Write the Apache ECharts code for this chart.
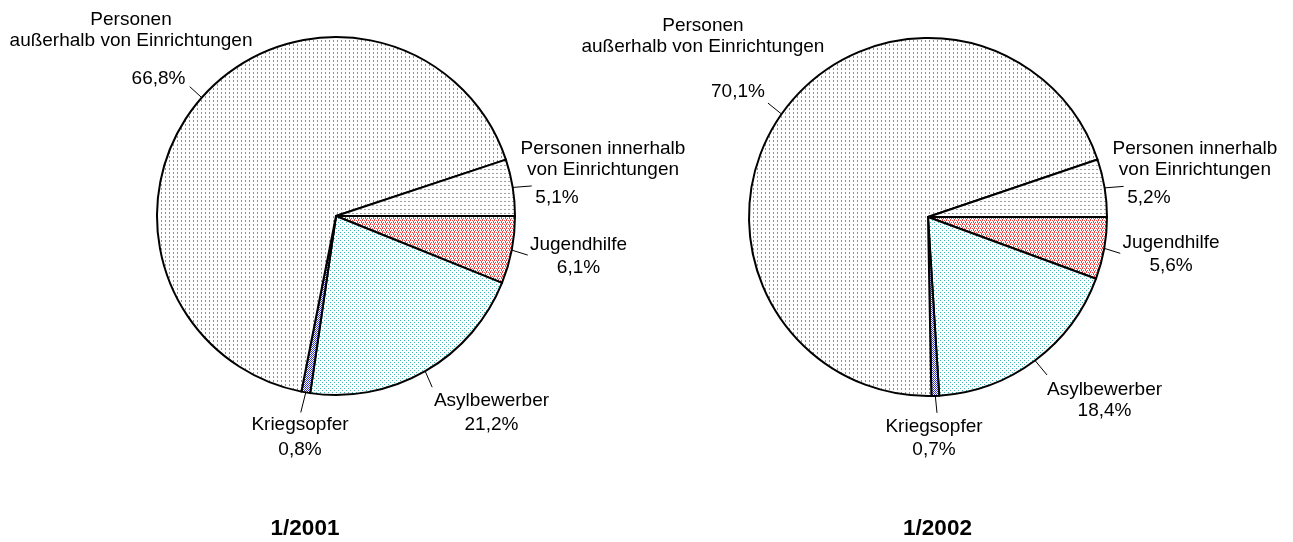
<!DOCTYPE html>
<html><head><meta charset="utf-8">
<script src="https://cdn.jsdelivr.net/npm/echarts@6/dist/echarts.min.js"></script>
<style>html,body{margin:0;padding:0;background:#fff}#c{width:1293px;height:542px}</style>
</head><body><div id="c"></div>
<script>
// ---- data ----
const categories = ['Jugendhilfe', 'Asylbewerber', 'Kriegsopfer',
  'Personen außerhalb von Einrichtungen', 'Personen innerhalb von Einrichtungen'];
const labelNames = ['Jugendhilfe', 'Asylbewerber', 'Kriegsopfer',
  'Personen\naußerhalb von Einrichtungen', 'Personen innerhalb\nvon Einrichtungen'];
const values2001 = [6.1, 21.2, 0.8, 66.8, 5.1];
const values2002 = [5.6, 18.4, 0.7, 70.1, 5.2];
const chartTitles = ['1/2001', '1/2002'];

// ---- style ----
const FONT = 'Liberation Sans';
const LABEL_SIZE = 19;
const NAME_LH = 21;

function makePattern(fg, pts, size) {
  const c = document.createElement('canvas');
  c.width = size; c.height = size;
  const g = c.getContext('2d');
  g.fillStyle = '#ffffff'; g.fillRect(0, 0, size, size);
  g.fillStyle = fg;
  pts.forEach(p => g.fillRect(p[0], p[1], 1, 1));
  return { image: c, repeat: 'repeat' };
}
const fills = [
  makePattern('#f04040', [[0,0],[2,0],[1,1],[3,2],[1,2],[2,3]], 4),               // Jugendhilfe
  makePattern('#38b4b4', [[0,0],[2,2]], 4),                                        // Asylbewerber
  makePattern('#3838c4', [[0,0],[2,0],[1,1],[3,1],[0,2],[2,2],[1,3],[3,3]], 4),   // Kriegsopfer
  makePattern('#909090', [[1,0],[1,1]], 4),                                        // außerhalb
  makePattern('#a0a0a0', [[0,1],[1,1]], 4)                                         // innerhalb
];

const sideOffsets = {
  J: { dx: 66.8, dy: -16.1, lp: 25, shift: 0, lead: [16, 5] },
  I: { dx: 90.3, dy: -49.4, lp: 35, shift: -46, lead: [19, -1.5] }
};
const pies = [
  { center: [336, 216], radius: 179, titleX: 305, values: values2001,
    offs: [sideOffsets.J,
           { dx: 66.3, dy: 18.8, lp: 27, shift: 0, lead: [7, 16] },
           { dx: -5.8, dy: 21.6, lp: 29, shift: 0, lead: [-5, 20] },
           { dx: -70.7, dy: -88.6, lp: 55, shift: 27.5, lead: [-12, -11] },
           sideOffsets.I] },
  { center: [928, 217], radius: 179, titleX: 937.5, values: values2002,
    offs: [sideOffsets.J,
           { dx: 69.5, dy: 18.5, lp: 21, shift: 0, lead: [12, 14.5] },
           { dx: -1.3, dy: 20.1, lp: 25, shift: 0, lead: [1.7, 17] },
           { dx: -78.6, dy: -99.1, lp: 69, shift: 35, lead: [-13.6, -11] },
           sideOffsets.I] }
];

function midAngles(vals) {
  const total = vals.reduce((a, b) => a + b, 0);
  let acc = 0;
  return vals.map(v => { const m = (acc + v / 2) / total * Math.PI * 2; acc += v; return m; });
}
function fmtPct(v) { return v.toFixed(1).replace('.', ',') + '%'; }

const series = pies.map((cfg, si) => {
  const mids = midAngles(cfg.values);
  return {
    type: 'pie',
    center: cfg.center,
    radius: cfg.radius,
    startAngle: 0,
    clockwise: true,
    avoidLabelOverlap: false,
    silent: true,
    itemStyle: { borderColor: '#000', borderWidth: 2 },
    labelLine: { show: true, length: 10, length2: 0, smooth: false,
      lineStyle: { color: '#000', width: 1 } },
    data: categories.map((c, i) => {
      const o = cfg.offs[i];
      const pad = o.shift >= 0 ? [0, 0, 0, 2 * o.shift] : [0, -2 * o.shift, 0, 0];
      return {
        name: c,
        value: cfg.values[i],
        itemStyle: { color: fills[i] },
        label: {
          show: true, position: 'outside',
          formatter: '{n|' + labelNames[i] + '}\n{p|' + fmtPct(cfg.values[i]) + '}',
          rich: {
            n: { fontFamily: FONT, fontSize: LABEL_SIZE, color: '#000', lineHeight: NAME_LH, align: 'center' },
            p: { fontFamily: FONT, fontSize: LABEL_SIZE, color: '#000', lineHeight: o.lp, align: 'center', padding: pad }
          }
        }
      };
    }),
    labelLayout: function (params) {
      const i = params.dataIndex;
      const a = mids[i];
      const ex = cfg.center[0] + cfg.radius * Math.cos(a);
      const ey = cfg.center[1] + cfg.radius * Math.sin(a);
      const o = cfg.offs[i];
      return {
        x: ex + o.dx, y: ey + o.dy, align: 'center', verticalAlign: 'top',
        labelLinePoints: [[ex, ey], [ex + o.lead[0], ey + o.lead[1]]]
      };
    }
  };
});

const chart = echarts.init(document.getElementById('c'), null, { renderer: 'canvas' });
chart.setOption({
  backgroundColor: '#ffffff',
  animation: false,
  graphic: pies.map((cfg, i) => ({
    type: 'text', x: cfg.titleX, y: 528.5,
    style: { text: chartTitles[i], align: 'center', verticalAlign: 'middle',
      font: 'bold 22.5px "' + FONT + '"', fill: '#000' }
  })),
  series: series
});
</script>
</body></html>
